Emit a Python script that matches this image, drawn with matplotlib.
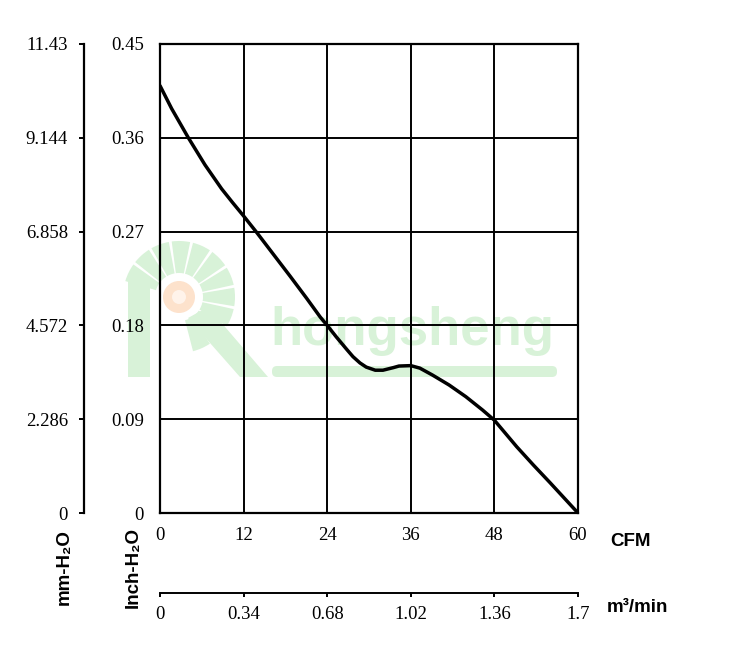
import matplotlib
matplotlib.use("Agg")
import matplotlib.pyplot as plt
from matplotlib.patches import Circle, Wedge, Rectangle, Polygon, FancyBboxPatch

# curve (CFM, inch-H2O)
cfm = [0, 1.67, 4.07, 6.46, 8.85, 10.4, 12.0, 13.9, 16.3, 18.7, 21.05, 23.0,
       24.0, 25.3, 26.8, 27.7, 28.7, 29.6, 30.9, 32.0, 33.5, 34.3, 36.0,
       37.3, 39.1, 41.5, 43.9, 46.3, 48.0, 51.2, 53.6, 56.0, 60.0]
inch = [0.410, 0.388, 0.360, 0.334, 0.311, 0.298, 0.285, 0.269, 0.248,
        0.227, 0.206, 0.188, 0.180, 0.169, 0.157, 0.150, 0.144, 0.140,
        0.137, 0.137, 0.1395, 0.141, 0.1414, 0.139, 0.1324, 0.1228,
        0.1116, 0.0988, 0.089, 0.0636, 0.046, 0.029, 0.0]

cfm_ticks = [0, 12, 24, 36, 48, 60]
inch_ticks = [0, 0.09, 0.18, 0.27, 0.36, 0.45]
inch_labels = ["0", "0.09", "0.18", "0.27", "0.36", "0.45"]
mm_ticks = [0, 2.286, 4.572, 6.858, 9.144, 11.43]
mm_labels = ["0", "2.286", "4.572", "6.858", "9.144", "11.43"]
m3_ticks = [0, 0.34, 0.68, 1.02, 1.36, 1.7]
m3_labels = ["0", "0.34", "0.68", "1.02", "1.36", "1.7"]

W, H = 750, 658
PX = 72 / 100  # points per pixel at dpi 100
serif = "Liberation Serif"
sans = ["Liberation Sans", "DejaVu Sans"]
tick_fs = 13.5

fig = plt.figure(figsize=(W / 100, H / 100), dpi=100, facecolor="white")

# watermark layer, pixel coordinates
bg = fig.add_axes([0, 0, 1, 1], zorder=0)
bg.set_xlim(0, W); bg.set_ylim(H, 0); bg.axis("off")
green = "#d8f2d8"
bg.add_patch(Rectangle((128, 276), 22, 101, color=green, lw=0))
bg.add_patch(Polygon([(188, 318), (208, 307), (268, 377), (240, 377)],
                     closed=True, color=green, lw=0))
for a0 in range(-165, 60, 22):
    bg.add_patch(Wedge((179, 297), 56, a0 + 1.5, a0 + 20.5, width=32,
                       color=green, lw=0))
bg.add_patch(Circle((179, 297), 16, color="#fde2cc", lw=0))
bg.add_patch(Circle((179, 297), 7, color="#fff3ea", lw=0))
bg.text(412, 331, "hongsheng", ha="center", va="center", fontsize=38,
        fontweight="bold", family=sans, color=green)
bg.add_patch(FancyBboxPatch((272, 366), 285, 11,
                            boxstyle="round,pad=0,rounding_size=5",
                            color=green, lw=0))

# main axes
L, R, T, B = 160, 578, 44, 513
ax = fig.add_axes([L / W, 1 - B / H, (R - L) / W, (B - T) / H], zorder=2)
ax.set_facecolor("none")
ax.plot(cfm, inch, color="black", lw=2.5, solid_capstyle="round",
        solid_joinstyle="round", zorder=3)
ax.set_xlim(0, 60)
ax.set_ylim(0, 0.45)
ax.set_xticks(cfm_ticks)
ax.set_xticklabels([str(v) for v in cfm_ticks])
ax.set_yticks(inch_ticks)
ax.set_yticklabels(inch_labels)
ax.grid(True, color="black", lw=1.4)
for s in ax.spines.values():
    s.set_linewidth(1.6)
ax.tick_params(length=0, labelsize=tick_fs)
ax.tick_params(axis="x", pad=14 * PX)
ax.tick_params(axis="y", pad=16 * PX)
for lab in ax.get_xticklabels() + ax.get_yticklabels():
    lab.set_family(serif)

# mm-H2O axis on the far left
ax_mm = ax.twinx()
ax_mm.set_ylim(0, 11.43)
for k in ["right", "top", "bottom"]:
    ax_mm.spines[k].set_visible(False)
ax_mm.spines["left"].set_visible(True)
ax_mm.spines["left"].set_position(("outward", 76 * PX))
ax_mm.spines["left"].set_linewidth(1.6)
ax_mm.yaxis.set_ticks_position("left")
ax_mm.set_yticks(mm_ticks)
ax_mm.set_yticklabels(mm_labels)
ax_mm.tick_params(axis="y", length=5 * PX, width=1.4, labelsize=tick_fs,
                  pad=11 * PX)
for lab in ax_mm.get_yticklabels():
    lab.set_family(serif)

# m3/min axis below
ax_m3 = ax.twiny()
ax_m3.set_xlim(0, 1.7)
for k in ["right", "top", "left"]:
    ax_m3.spines[k].set_visible(False)
ax_m3.spines["bottom"].set_visible(True)
ax_m3.spines["bottom"].set_position(("outward", 80 * PX))
ax_m3.spines["bottom"].set_linewidth(1.4)
ax_m3.xaxis.set_ticks_position("bottom")
ax_m3.set_xticks(m3_ticks)
ax_m3.set_xticklabels(m3_labels)
ax_m3.tick_params(axis="x", length=4 * PX, width=1.4, labelsize=tick_fs,
                  pad=9 * PX)
for lab in ax_m3.get_xticklabels():
    lab.set_family(serif)

# unit labels
def ptext(x, y, s, **kw):
    fig.text(x / W, 1 - y / H, s, family=sans, fontweight="bold",
             fontsize=13.5, **kw)

ptext(610, 541, "CFM", ha="left", va="center")
ptext(607, 607, "m³/min", ha="left", va="center")
ptext(64, 567, "mm-H₂O", ha="center", va="center", rotation=90)
ptext(133, 567, "Inch-H₂O", ha="center", va="center", rotation=90)

fig.savefig("out.png", dpi=100, facecolor="white")
